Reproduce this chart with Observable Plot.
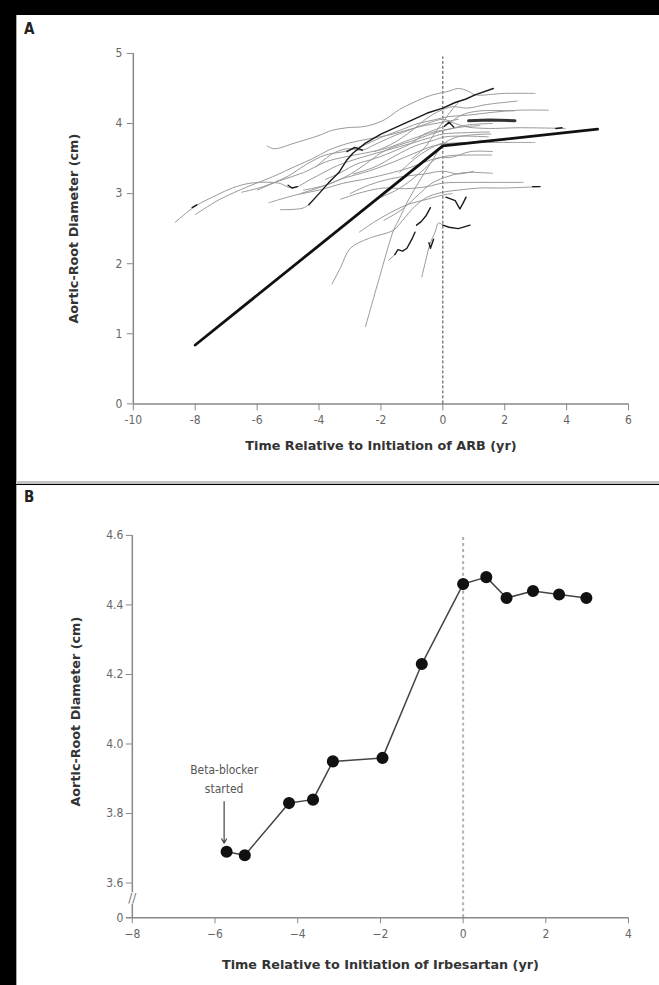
<!DOCTYPE html>
<html><head><meta charset="utf-8">
<script src="https://cdn.jsdelivr.net/npm/d3@7"></script>
<script src="https://cdn.jsdelivr.net/npm/@observablehq/plot@0.6"></script>
<style>
html,body{margin:0;padding:0;background:#000;}
body{width:659px;height:985px;position:relative;overflow:hidden;font-family:"DejaVu Sans",sans-serif;}
#panelA{position:absolute;left:16px;top:15px;width:643px;height:467px;background:#fff;border-left:1px solid #aaa;box-sizing:border-box;}
#sep{position:absolute;left:16px;top:481px;width:643px;height:3px;background:#c4c4c4;}
#panelB{position:absolute;left:16px;top:485px;width:643px;height:500px;background:#fff;border-left:1px solid #aaa;box-sizing:border-box;}
.plt{position:absolute;left:0;top:0;}
.lab{position:absolute;left:7px;font-weight:bold;font-size:15px;line-height:15px;color:#222;font-family:"DejaVu Sans Condensed",sans-serif;}
</style></head>
<body>
<div id="panelA"><div class="plt" id="plotA"></div><div class="lab" style="top:7px">A</div></div>
<div id="sep"></div>
<div id="panelB"><div class="plt" id="plotB"></div><div class="lab" style="top:5px">B</div></div>
<script>
const F = '"DejaVu Sans Condensed","Liberation Sans Narrow",sans-serif';
const FT = '"DejaVu Sans",sans-serif';

// ---------- Panel A data ----------
const xTicksA = [-10, -8, -6, -4, -2, 0, 2, 4, 6];
const yTicksA = [0, 1, 2, 3, 4, 5];

// individual patients (time in yr, aortic-root diameter in cm) - gray traces
const g1 = [[-8.65,2.59],[-8.0,2.82],[-7.3,2.98],[-6.8,3.08],[-6.2,3.15],[-5.3,3.15],[-4.87,3.08],[-4.2,3.22],[-3.4,3.4],[-2.6,3.52],[-1.8,3.62],[-1.0,3.72],[-0.4,3.8],[0,3.85],[0.8,3.87],[1.5,3.88]];
const g2 = [[-8.0,2.7],[-7.24,2.91],[-6.3,3.1],[-5.5,3.24],[-4.76,3.39],[-4.2,3.5],[-3.69,3.62],[-3.04,3.72],[-2.4,3.78],[-1.6,3.85],[-0.8,3.95],[0,4.02],[0.5,4.06]];
const g3 = [[-5.68,3.68],[-5.45,3.64],[-4.8,3.72],[-4.0,3.83],[-3.6,3.9],[-3.1,3.94],[-2.5,3.96],[-1.9,4.05],[-1.4,4.2],[-1.0,4.29],[-0.4,4.4],[0.18,4.46],[0.5,4.5],[0.83,4.46],[1.04,4.41],[2.0,4.43],[2.98,4.43]];
const g4 = [[-5.62,2.87],[-4.76,2.98],[-4.0,3.05],[-3.2,3.15],[-2.6,3.2],[-1.8,3.28],[-1.0,3.38],[-0.4,3.48],[0.2,3.54],[0.8,3.55],[1.58,3.55]];
const g5 = [[-5.25,2.77],[-4.55,2.79],[-4.33,2.84]];
const g6 = [[-6.5,3.02],[-5.8,3.1],[-5.0,3.25],[-4.4,3.42],[-3.8,3.55],[-3.2,3.6],[-2.6,3.68],[-2.0,3.8],[-1.4,3.9],[-0.8,4.0],[-0.3,4.05],[0.2,4.1],[0.83,4.12],[1.6,4.16],[2.44,4.19],[3.41,4.19]];
const g7 = [[-4.6,3.0],[-3.9,3.1],[-3.2,3.22],[-2.4,3.32],[-1.6,3.45],[-0.9,3.58],[-0.3,3.68],[0.3,3.72],[1.2,3.73],[2.2,3.73],[2.97,3.73]];
const g8 = [[-4.1,3.38],[-3.6,3.56],[-3.1,3.64],[-2.6,3.62],[-2.2,3.7],[-1.6,3.82],[-1.0,3.92],[-0.5,4.0],[0,4.06],[0.4,4.0],[0.8,3.95],[1.47,3.93],[2.5,3.94],[3.95,3.93]];
const g9 = [[-3.3,2.92],[-2.6,3.02],[-1.9,3.08],[-1.2,3.07],[-0.5,3.1],[0,3.15],[0.8,3.16],[1.6,3.16],[2.6,3.16]];
const g10 = [[-2.9,3.28],[-2.2,3.38],[-1.5,3.55],[-0.9,3.68],[-0.3,3.76],[0.07,3.81],[0.8,3.82],[1.47,3.81]];
const g11 = [[-1.9,2.62],[-1.3,2.78],[-0.8,2.98],[-0.35,3.15],[0.2,3.25],[0.7,3.3],[1.6,3.29]];
const g12 = [[-2.5,1.1],[-2.05,1.8],[-1.59,2.48],[-1.43,2.62],[-1.1,2.92],[-0.7,3.22],[-0.3,3.5],[0,3.7],[0.4,3.8],[1.0,3.84],[1.55,3.85]];
const g13 = [[-3.58,1.71],[-3.3,1.95],[-2.99,2.22],[-2.4,2.36],[-1.59,2.48],[-1.3,2.62],[-0.9,2.82],[-0.5,2.95],[0,3.02],[0.5,3.05],[1.2,3.08],[2.0,3.08],[3.14,3.1]];
const g14 = [[-1.75,2.05],[-1.55,2.13]];
const g15 = [[-0.68,1.81],[-0.55,2.05],[-0.41,2.29],[-0.25,2.45],[-0.14,2.58],[0,2.55]];
const g16 = [[-3.8,3.2],[-3.3,3.3],[-2.8,3.42],[-2.2,3.5],[-1.5,3.62],[-1.0,3.72],[-0.6,3.85],[-0.2,3.92],[0.1,3.97],[0.6,4.12],[1.2,4.18],[2.3,4.18]];
const g17 = [[-2.2,3.6],[-1.6,3.72],[-1.0,3.9],[-0.5,4.08],[-0.1,4.18],[0.3,4.24],[0.8,4.22],[1.4,4.27],[2.4,4.32]];
const g18 = [[-4.5,3.05],[-3.8,3.12],[-3.1,3.25],[-2.5,3.42],[-2.0,3.58],[-1.5,3.68],[-1.0,3.75],[-0.5,3.83],[0,3.9],[0.6,3.95],[1.2,3.97]];
const g19 = [[-2.0,2.95],[-1.5,3.05],[-1.0,3.2],[-0.6,3.35],[-0.2,3.5],[0.3,3.52],[0.9,3.6],[1.6,3.6]];
const g20 = [[-1.0,3.5],[-0.6,3.65],[-0.2,3.9],[0.05,4.05],[0.3,4.2],[0.5,4.3]];
const g21 = [[-2.7,2.45],[-2.2,2.6],[-1.6,2.75],[-1.1,2.85],[-0.5,2.92],[0,2.98],[0.3,3.0]];
const g22 = [[-6.0,3.05],[-5.3,3.18],[-4.5,3.3],[-3.8,3.45],[-3.2,3.52],[-2.5,3.58],[-1.8,3.65],[-1.0,3.78],[-0.3,3.88],[0.2,3.92],[0.8,3.98],[1.6,4.0]];
const g23 = [[-3.0,3.0],[-2.4,3.12],[-1.8,3.2],[-1.2,3.25],[-0.6,3.28],[0,3.32],[0.5,3.28],[1.0,3.32]];
const g24 = [[-1.4,3.3],[-0.9,3.5],[-0.5,3.62],[0,3.72],[0.5,3.7],[1.2,3.75],[2.0,3.76]];

// black segments of the traces
const b1 = [[-4.33,2.84],[-4.0,3.0],[-3.7,3.15],[-3.36,3.3],[-3.1,3.48],[-2.9,3.58],[-2.5,3.72],[-2.0,3.85],[-1.5,3.95],[-1.0,4.05],[-0.5,4.15],[0,4.22],[0.4,4.3],[0.75,4.35],[1.04,4.41],[1.63,4.5]];
const b2 = [[0.83,4.04],[1.5,4.05],[2.33,4.04]];
const b3 = [[-1.55,2.13],[-1.45,2.2],[-1.3,2.18],[-1.16,2.22],[-1.0,2.35],[-0.9,2.45]];
const b4 = [[-0.85,2.55],[-0.7,2.6],[-0.55,2.68],[-0.4,2.8]];
const b5 = [[-0.45,2.3],[-0.4,2.22],[-0.3,2.35]];
const b6 = [[0,2.55],[0.2,2.52],[0.5,2.5],[0.88,2.55]];
const b7 = [[0.1,2.95],[0.4,2.9],[0.55,2.78],[0.65,2.86],[0.75,2.95]];
const b8 = [[-3.1,3.6],[-2.85,3.66],[-2.6,3.62]];
const b9 = [[-5.0,3.12],[-4.87,3.08],[-4.7,3.1]];
const b10 = [[3.65,3.93],[3.85,3.94]];
const b11 = [[2.9,3.1],[3.14,3.1]];
const b12 = [[-8.1,2.8],[-7.95,2.84]];
const b13 = [[0.05,3.96],[0.2,4.02],[0.35,3.95]];

// mean trajectory (thick)
const meanT = [-8, 0, 5];
const meanD = [0.84, 3.68, 3.92];

const grayLines = [g1,g2,g3,g4,g5,g6,g7,g8,g9,g10,g11,g12,g13,g14,g15,g16,g17,g18,g19,g20,g21,g22,g23,g24];
const blackLines = [b1,b3,b4,b5,b6,b7,b8,b9,b10,b11,b12,b13];
const thickLines = [b2];

const toRows = arr => arr.flatMap((pts, i) => pts.map(([t, d]) => ({id: i, t, d})));
const grayRows = toRows(grayLines);
const blackRows = toRows(blackLines);
const thickRows = toRows(thickLines);
const meanRows = meanT.map((t, i) => ({t, d: meanD[i]}));

const plotA = Plot.plot({
  width: 643, height: 465,
  marginLeft: 116, marginRight: 31, marginTop: 38, marginBottom: 76,
  x: {domain: [-10, 6]},
  y: {domain: [0, 5]},
  style: {fontFamily: F, fontSize: "12px", color: "#555", background: "transparent"},
  marks: [
    Plot.ruleX([0], {y1: 0, y2: 4.95, stroke: "#444", strokeDasharray: "3,2", strokeWidth: 1}),
    Plot.line(grayRows, {x: "t", y: "d", z: "id", stroke: "#999", strokeWidth: 1, curve: "catmull-rom"}),
    Plot.line(blackRows, {x: "t", y: "d", z: "id", stroke: "#1a1a1a", strokeWidth: 1.4}),
    Plot.line(thickRows, {x: "t", y: "d", z: "id", stroke: "#333", strokeWidth: 3}),
    Plot.line(meanRows, {x: "t", y: "d", stroke: "#111", strokeWidth: 2.8}),
    Plot.ruleX([-10], {stroke: "#888", strokeWidth: 1.5}),
    Plot.ruleY([0], {stroke: "#888", strokeWidth: 1.5}),
    Plot.axisX({ticks: xTicksA, tickSize: 7, tickPadding: 5, stroke: "#888", fill: "#666", label: null, tickFormat: d => d}),
    Plot.axisY({ticks: yTicksA, tickSize: 6, tickPadding: 5, stroke: "#888", fill: "#666", label: null, tickFormat: d => String(d)}),
    Plot.text(["Time Relative to Initiation of ARB (yr)"], {frameAnchor: "bottom", dy: 46, fontWeight: "bold", fontSize: 12.8, fontFamily: FT, fill: "#333"}),
    Plot.text(["Aortic-Root Diameter (cm)"], {frameAnchor: "left", textAnchor: "middle", dx: -60, rotate: -90, fontWeight: "bold", fontSize: 12.8, fontFamily: FT, fill: "#333"})
  ]
});
document.getElementById("plotA").appendChild(plotA);

// ---------- Panel B data ----------
const xTicksB = [-8, -6, -4, -2, 0, 2, 4];
const yTicksB = [3.6, 3.8, 4.0, 4.2, 4.4, 4.6];
const zeroTick = [0];
const visitT = [-5.72, -5.28, -4.21, -3.63, -3.15, -1.95, -1.0, 0, 0.56, 1.05, 1.69, 2.32, 2.98];
const visitD = [3.69, 3.68, 3.83, 3.84, 3.95, 3.96, 4.23, 4.46, 4.48, 4.42, 4.44, 4.43, 4.42];
const noteText = ["Beta-blocker\nstarted"];
const noteT = [-5.78];
const noteD = [3.905];
const arrowT = [-5.78];
const arrowD1 = [3.834];
const arrowD2 = [3.715];
const breakAt = [2.0];

// broken axis: values below 3.6 are squeezed into a short band above 0
const squeeze = v => v >= 3.6 ? v : 3.5 + v / 36;

const visits = visitT.map((t, i) => ({t, d: visitD[i]}));

const plotB = Plot.plot({
  width: 643, height: 500,
  marginLeft: 115, marginRight: 31, marginTop: 50, marginBottom: 67,
  x: {domain: [-8, 4]},
  y: {transform: squeeze, domain: [3.5, 4.6]},
  style: {fontFamily: F, fontSize: "12px", color: "#555", background: "transparent"},
  marks: [
    Plot.ruleX([0], {y1: 0, y2: 4.6, stroke: "#b0b0b0", strokeDasharray: "3,3", strokeWidth: 2}),
    Plot.line(visits, {x: "t", y: "d", stroke: "#444", strokeWidth: 1.5}),
    Plot.dot(visits, {x: "t", y: "d", r: 5.3, fill: "#111", stroke: "#111"}),
    Plot.text(noteText, {x: noteT, y: noteD, fill: "#555", fontSize: 12, lineHeight: 1.6, fontFamily: F}),
    Plot.arrow(arrowT, {x1: d => d, x2: d => d, y1: arrowD1, y2: arrowD2, stroke: "#444", strokeWidth: 1.2, headLength: 6}),
    Plot.ruleX([-8], {y1: 0, y2: 1.4, stroke: "#888", strokeWidth: 1.5}),
    Plot.ruleX([-8], {y1: 2.6, y2: 4.6, stroke: "#888", strokeWidth: 1.5}),
    Plot.text(["//"], {x: [-8], y: breakAt, fontSize: 12, fill: "#777", fontFamily: FT}),
    Plot.ruleY(zeroTick, {x1: -8.145, x2: 4, stroke: "#888", strokeWidth: 1.5}),
    Plot.text(zeroTick, {x: -8, y: d => d, dx: -9, textAnchor: "end", text: d => String(d), fill: "#666", fontSize: 12}),
    Plot.axisX({ticks: xTicksB, tickSize: 6, tickPadding: 6, stroke: "#888", fill: "#666", label: null}),
    Plot.axisY({ticks: yTicksB, tickSize: 6, tickPadding: 3, stroke: "#888", fill: "#666", label: null,
      tickFormat: d => d.toFixed(1)}),
    Plot.text(["Time Relative to Initiation of Irbesartan (yr)"], {frameAnchor: "bottom", dy: 51, fontWeight: "bold", fontSize: 12.8, fontFamily: FT, fill: "#333"}),
    Plot.text(["Aortic-Root Diameter (cm)"], {frameAnchor: "left", textAnchor: "middle", dx: -57, dy: -15, rotate: -90, fontWeight: "bold", fontSize: 12.8, fontFamily: FT, fill: "#333"})
  ]
});
document.getElementById("plotB").appendChild(plotB);
</script>
</body></html>
